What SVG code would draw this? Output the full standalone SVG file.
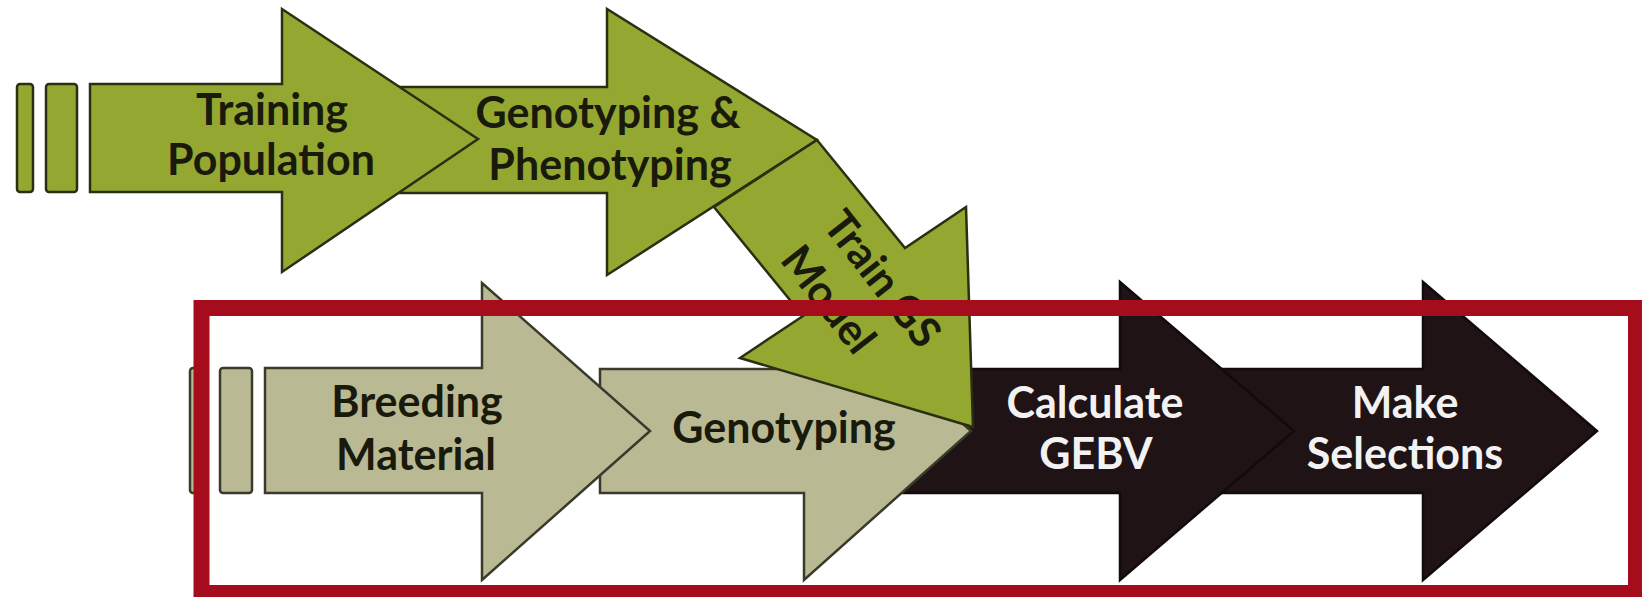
<svg xmlns="http://www.w3.org/2000/svg" width="1642" height="597" viewBox="0 0 1642 597">
<style>
.g{fill:#94a831;stroke:#2b2f12;stroke-width:2.5;stroke-linejoin:miter}
.b{fill:#b9ba94;stroke:#3a3a2a;stroke-width:2.5}
.k{fill:#1f1315;stroke:#120a0b;stroke-width:2.5}
.t{font-family:Lato,"Open Sans","Liberation Sans",sans-serif;font-weight:bold;font-size:43px;text-anchor:middle;fill:#1a1a0c}
.w{fill:#f2f2f2}
.frame{fill:none;stroke:#a50d1d;stroke-width:16}
</style>
<rect width="1642" height="597" fill="#ffffff"/>
<g id="connectors"></g>
<g id="make-selections">
<polygon class="k" points="1200,369 1423,369 1423,282 1597,431 1423,580 1423,493 1200,493"/>
<text class="t w" x="1405" y="418">Make</text>
<text class="t w" x="1405" y="469">Selections</text>
</g>
<g id="calculate-gebv">
<polygon class="k" points="890,369 1120,369 1120,282 1294,431 1120,580 1120,493 890,493"/>
<text class="t w" x="1095" y="418">Calculate</text>
<text class="t w" x="1096" y="469">GEBV</text>
</g>
<g id="genotyping">
<polygon class="b" points="600,369 804,369 804,282 971,431 804,580 804,493 600,493"/>
<text class="t" x="784" y="443">Genotyping</text>
</g>
<g id="breeding-material">
<rect class="b" x="190" y="368" width="17" height="125" rx="3"/>
<rect class="b" x="220" y="368" width="32" height="125" rx="3"/>
<polygon class="b" points="265,368 482,368 482,283 650,431 482,580 482,493 265,493"/>
<text class="t" x="417" y="417">Breeding</text>
<text class="t" x="416" y="470">Material</text>
</g>
<g id="genotyping-phenotyping">
<polygon class="g" points="400,87 607,87 607,9 817,140 607,275 607,193 400,193"/>
<text class="t" x="608" y="128">Genotyping &amp;</text>
<text class="t" x="610" y="180">Phenotyping</text>
</g>
<g id="training-population">
<rect class="g" x="17" y="84" width="16" height="108" rx="3"/>
<rect class="g" x="46" y="84" width="31" height="108" rx="3"/>
<polygon class="g" points="90,84 282,84 282,9 478,139 282,272 282,192 90,192"/>
<text class="t" x="272" y="125">Training</text>
<text class="t" x="271" y="175">Population</text>
</g>
<g id="train-gs-model">
<polygon class="g" points="817,140 905,248 966,207 973,427 740,358 803,316 714,207"/>
<g transform="translate(866,279) rotate(52)">
<text class="t" x="10" y="2">Train GS</text>
<text class="t" x="-7" y="57">Model</text>
</g>
</g>
<rect id="highlight-frame" class="frame" x="201.5" y="308" width="1434.5" height="285"/>
</svg>
